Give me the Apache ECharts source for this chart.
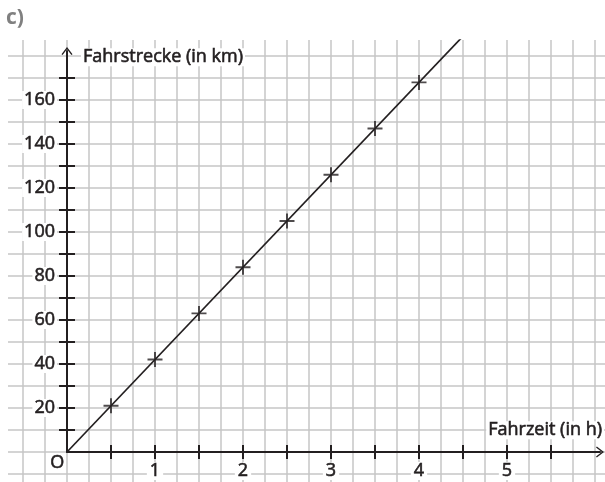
<!DOCTYPE html>
<html>
<head>
<meta charset="utf-8">
<script src="https://cdn.jsdelivr.net/npm/echarts@6/dist/echarts.min.js"></script>
<style>
  html, body { margin: 0; padding: 0; background: #fff; }
  #chart { width: 605px; height: 482px; }
</style>
</head>
<body>
<div id="chart"></div>
<script>
// measured points (Fahrzeit in h, Fahrstrecke in km)
const hours = [0.5, 1, 1.5, 2, 2.5, 3, 3.5, 4];
const distances = [21, 42, 63, 84, 105, 126, 147, 168];
// proportional line through the origin, runs off the top of the grid
const lineHours = [0, 4.5];
const lineDistances = [0, 189];

const xTicks = [0.5, 1, 1.5, 2, 2.5, 3, 3.5, 4, 4.5, 5, 5.5];
const xLabels = [1, 2, 3, 4, 5];
const yTicks = [10, 20, 30, 40, 50, 60, 70, 80, 90, 100, 110, 120, 130, 140, 150, 160, 170];
const yLabels = [20, 40, 60, 80, 100, 120, 140, 160];

const ink = "#231f20";
const gridGray = "#c6c6c6";
const font = "Open Sans";
const textFont = "18px 'Open Sans'";
// a thin outline gives the text the medium weight of the original
const heavy = { textBorderColor: ink, textBorderWidth: 0.6 };
const arrow = "path://M10,0 L20,13 L18,14.5 L10,4 L2,14.5 L0,13 Z";
const plus = "path://M0,8.7 L20,8.7 L20,11.3 L0,11.3 Z M8.7,0 L11.3,0 L11.3,20 L8.7,20 Z";

const chart = echarts.init(document.getElementById("chart"));

const hidden = { show: false };
const axisBox = { left: 67, right: 5, top: 51, bottom: 30 };
const tickStyle = { color: ink, width: 2 };

chart.setOption({
  animation: false,
  backgroundColor: "#fff",
  grid: [
    // vertical grid lines + data
    { left: 23, right: 10, top: 40, bottom: 0 },
    // horizontal grid lines
    { left: 8, right: 0, top: 56, bottom: 8 },
    // axes with outer ticks and labels
    axisBox,
    // inner ticks
    axisBox,
  ],
  xAxis: [
    {
      gridIndex: 0, type: "value", min: -0.5, max: 6, interval: 0.25, z: 0,
      axisLine: hidden, axisTick: hidden, axisLabel: hidden,
      splitLine: { show: true, lineStyle: { color: gridGray, width: 1.5 } },
    },
    { gridIndex: 1, type: "value", min: 0, max: 1, show: false },
    {
      gridIndex: 2, type: "value", min: 0, max: 6.057, z: 5,
      axisLine: { show: true, onZero: false, symbol: ["none", arrow], symbolSize: [13, 8],
        lineStyle: tickStyle },
      axisTick: { show: true, customValues: xTicks, length: 7, lineStyle: tickStyle },
      axisLabel: {
        show: true, customValues: xLabels, margin: 10, color: ink, ...heavy,
        fontFamily: font, fontSize: 18, backgroundColor: "#fff", padding: [0, 3],
      },
      splitLine: hidden,
    },
    {
      gridIndex: 3, type: "value", min: 0, max: 6.057, z: 5,
      axisLine: hidden,
      axisTick: { show: true, inside: true, customValues: xTicks, length: 7, lineStyle: tickStyle },
      axisLabel: hidden, splitLine: hidden,
    },
  ],
  yAxis: [
    { gridIndex: 0, type: "value", min: -13.636, max: 187.27, show: false },
    {
      gridIndex: 1, type: "value", min: -10, max: 180, interval: 10, z: 0,
      axisLine: hidden, axisTick: hidden, axisLabel: hidden,
      splitLine: { show: true, lineStyle: { color: gridGray, width: 1.5 } },
    },
    {
      gridIndex: 2, type: "value", min: 0, max: 182.27, z: 5,
      axisLine: { show: true, onZero: false, symbol: ["none", arrow], symbolSize: [13, 8],
        lineStyle: tickStyle },
      axisTick: { show: true, customValues: yTicks, length: 8, lineStyle: tickStyle },
      axisLabel: {
        show: true, customValues: yLabels, margin: 10, color: ink, ...heavy,
        fontFamily: font, fontSize: 18, backgroundColor: "#fff", padding: [0, 2],
      },
      splitLine: hidden,
    },
    {
      gridIndex: 3, type: "value", min: 0, max: 182.27, z: 5,
      axisLine: hidden,
      axisTick: { show: true, inside: true, customValues: yTicks, length: 8, lineStyle: tickStyle },
      axisLabel: hidden, splitLine: hidden,
    },
  ],
  graphic: [
    { type: "text", left: 6, top: 8, z: 100,
      style: { text: "c)", fill: "#808080", font: "bold 21px 'Open Sans'" } },
    { type: "text", left: 81, top: 48, z: 100,
      style: { text: "Fahrstrecke (in km)", fill: ink, font: textFont, stroke: ink, lineWidth: 0.6,
        backgroundColor: "#fff", padding: [0, 2] } },
    { type: "text", right: 1, top: 421, z: 100,
      style: { text: "Fahrzeit (in h)", fill: ink, font: textFont, stroke: ink, lineWidth: 0.6,
        backgroundColor: "#fff", padding: [0, 2] } },
    { type: "text", left: 50, top: 454, z: 100,
      style: { text: "O", fill: ink, font: textFont, stroke: ink, lineWidth: 0.6 } },
  ],
  series: [
    {
      type: "line", xAxisIndex: 0, yAxisIndex: 0, z: 3,
      data: lineHours.map((h, i) => [h, lineDistances[i]]),
      showSymbol: false, silent: true,
      lineStyle: { color: ink, width: 1.7 },
    },
    {
      type: "scatter", xAxisIndex: 0, yAxisIndex: 0, z: 4,
      data: hours.map((h, i) => [h, distances[i]]),
      symbol: plus, symbolSize: 15,
      itemStyle: { color: ink },
    },
  ],
});
</script>
</body>
</html>
